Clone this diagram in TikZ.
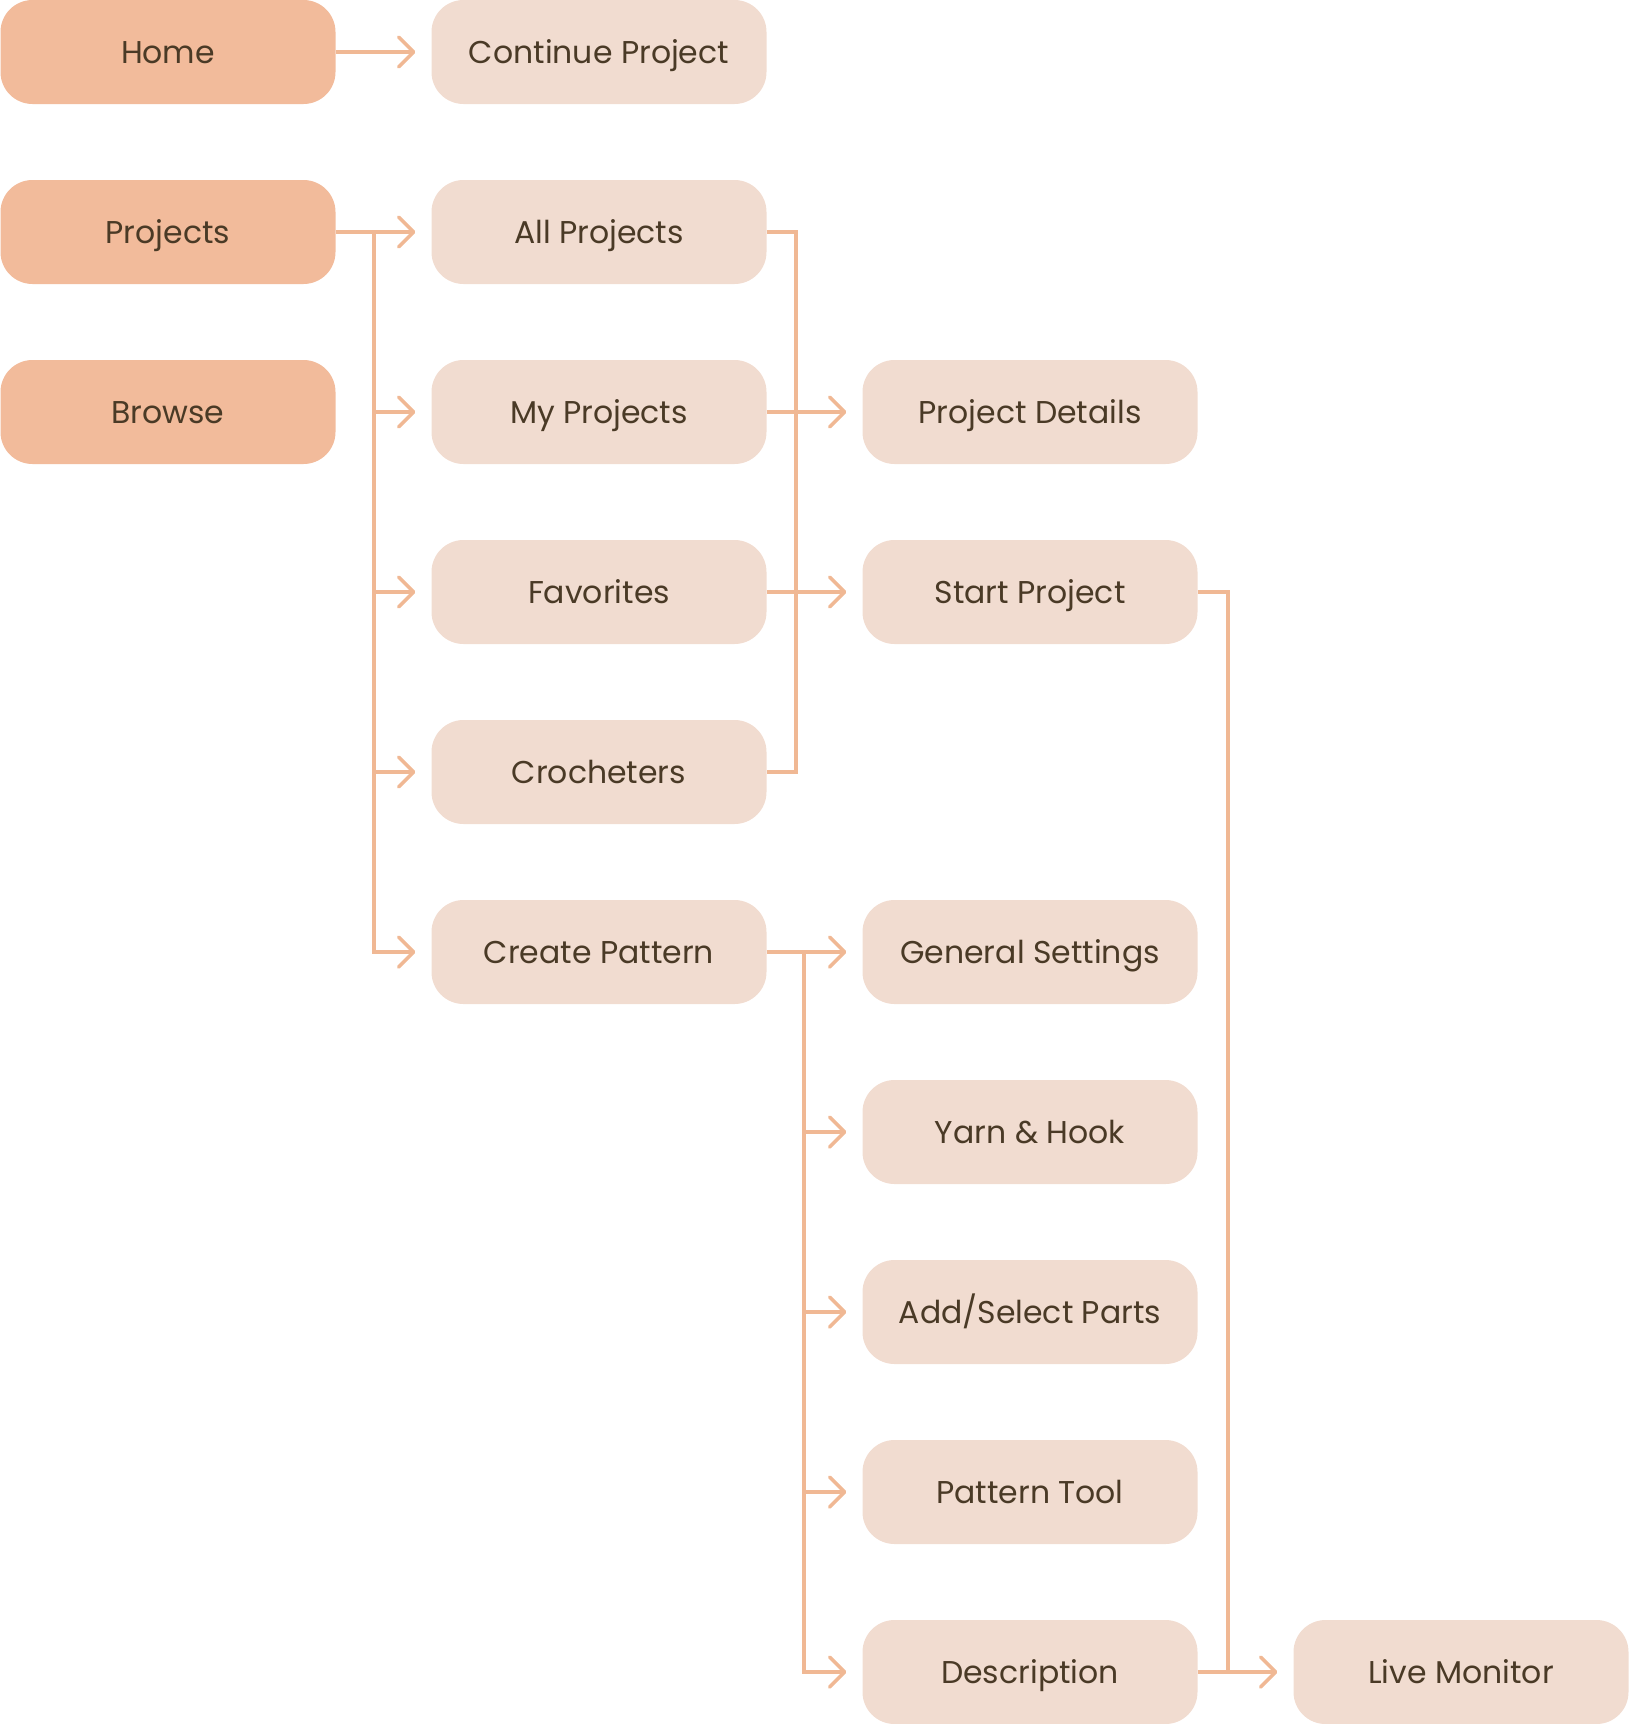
\documentclass[tikz,border=0pt]{standalone}
\usepackage{fontspec}
\setmainfont{Poppins}
\usetikzlibrary{arrows.meta, positioning}
\definecolor{Peach}     {HTML}{F2BB9B}
\definecolor{PeachLight}{HTML}{F1DCD0}
\definecolor{Wire}      {HTML}{F0B894}
\definecolor{Bark}      {HTML}{4A3A26}

\tikzset{
  mainbox/.style={fill=Peach, rounded corners=32pt,
        minimum width=335pt, minimum height=104pt, inner sep=0pt,
        text height=22pt, text depth=0pt,
        font=\fontsize{31.5}{36}\selectfont, text=Bark},
  subbox/.style={mainbox, fill=PeachLight},
  wire/.style={draw=Wire, line width=3.5pt},
  link/.style={wire, shorten >=16pt,
        -{Straight Barb[length=15pt, width=30pt, line cap=round, line join=round]}}
}

\begin{document}
\begin{tikzpicture}[x=1pt, y=-1pt]
  \useasboundingbox (0,0) rectangle (1628,1724);
  % First column: main menu
  \node[mainbox] (home)   at (168, 52)  {Home};
  \node[mainbox] (proj)   at (168, 232) {Projects};
  \node[mainbox] (browse) at (168, 412) {Browse};
  % Second column
  \node[subbox] (cont)  at (599, 52)  {Continue Project};
  \node[subbox] (allp)  at (599, 232) {All Projects};
  \node[subbox] (myp)   at (599, 412) {My Projects};
  \node[subbox] (fav)   at (599, 592) {Favorites};
  \node[subbox] (croc)  at (599, 772) {Crocheters};
  \node[subbox] (crp)   at (599, 952) {Create Pattern};
  % Third column
  \node[subbox] (pdet)  at (1030, 412)  {Project Details};
  \node[subbox] (start) at (1030, 592)  {Start Project};
  \node[subbox] (gens)  at (1030, 952)  {General Settings};
  \node[subbox] (yarn)  at (1030, 1132) {Yarn \& Hook};
  \node[subbox] (parts) at (1030, 1312) {Add/Select Parts};
  \node[subbox] (ptool) at (1030, 1492) {Pattern Tool};
  \node[subbox] (desc)  at (1030, 1672) {Description};
  % Fourth column
  \node[subbox] (live)  at (1461, 1672) {Live Monitor};

  % Trunk points
  \coordinate (t1) at (374, 232);
  \coordinate (t2) at (796, 232);
  \coordinate (t3) at (804, 952);
  \coordinate (t4) at (1228, 592);

  % Home and Projects
  \draw[link] (home) -- (cont);
  \draw[link] (proj) -- (allp);
  \foreach \nd in {myp, fav, croc, crp}
    \draw[link] (t1) |- (\nd);
  % Project pages bracket
  \draw[wire] (allp) -- (t2) -- (t2 |- croc) -- (croc);
  \draw[link] (myp) -- (pdet);
  \draw[link] (fav) -- (start);
  % Create Pattern steps
  \draw[link] (crp) -- (gens);
  \foreach \nd in {yarn, parts, ptool, desc}
    \draw[link] (t3) |- (\nd);
  % Live Monitor
  \draw[wire] (start) -- (t4) -- (t4 |- desc);
  \draw[link] (desc) -- (live);
\end{tikzpicture}
\end{document}
